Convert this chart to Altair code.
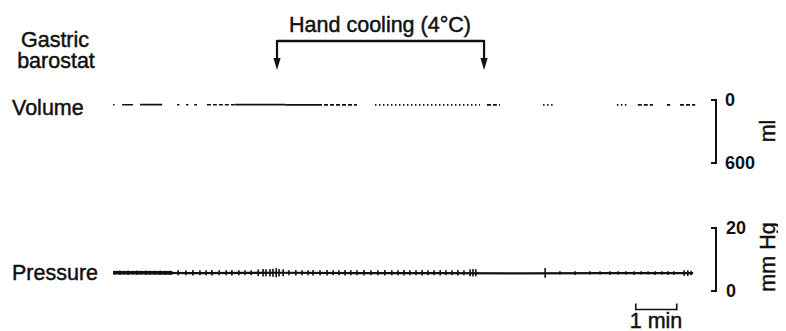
import altair as alt
import pandas as pd

FONT = "Liberation Sans"
INK = "#111111"

# ---------------- data ----------------
# Volume trace (ml) - the recorded trace is fragmented; visible pieces (min)
vol_start = [0.00, 0.22, 0.66, 1.56, 1.78, 1.98, 2.29, 2.98, 4.20, 5.00, 6.39, 9.12, 10.49, 12.29, 12.80, 13.51, 13.83]
vol_end   = [0.10, 0.49, 1.20, 1.62, 1.84, 2.05, 2.98, 4.20, 5.00, 5.95, 8.95, 9.44, 10.73, 12.54, 13.17, 13.59, 14.20]
vol_value = [45, 45, 44, 45, 45, 45, 45, 44, 46, 47, 47, 46, 46, 47, 46, 47, 46]
vol_style = ["dot", "solid", "solid", "solid", "solid", "solid", "dash", "solid", "solid", "dash",
             "dot", "dash", "dot", "dot", "dash", "solid", "dash"]

# Pressure trace (mm Hg) - baseline
p_time  = [0.0, 2.0, 4.0, 6.0, 8.0, 10.0, 12.0, 14.15]
p_value = [5.8, 5.7, 5.8, 5.7, 5.7, 5.6, 5.7, 5.7]
# thicker noisy start of the pressure trace
p_thick_time  = [0.0, 0.7, 1.45]
p_thick_value = [5.8, 5.8, 5.75]

# Pressure spikes (min, low, high in mm Hg)
spike_time = [0.05, 0.17, 0.27, 0.37, 0.49, 0.59, 0.68, 0.80, 0.90, 1.02, 1.15, 1.27, 1.39,
              1.59, 1.78, 1.95, 2.12, 2.27, 2.41, 2.59, 2.76, 2.90, 3.07, 3.22, 3.37, 3.54,
              3.66, 3.73, 3.83, 3.90, 3.98, 4.05, 4.15, 4.29, 4.46, 4.61, 4.76, 4.88, 5.05,
              5.22, 5.37, 5.51, 5.66, 5.80, 5.95, 6.12, 6.29, 6.46, 6.63, 6.80, 6.95, 7.10,
              7.24, 7.39, 7.54, 7.68, 7.83, 7.98, 8.12, 8.27, 8.41, 8.56, 8.71, 8.78, 8.85,
              10.54, 10.90, 11.27, 11.63, 11.88, 12.12, 12.32, 12.51, 12.71, 12.88, 13.05,
              13.22, 13.39, 13.54, 13.68, 13.93, 14.02, 14.10]
spike_lo = [5.2, 5.1, 5.2, 5.1, 5.2, 5.1, 5.2, 5.1, 5.2, 5.2, 5.1, 5.2, 5.2,
            5.0, 5.0, 4.9, 5.0, 5.0, 4.9, 5.0, 5.0, 4.9, 5.0, 5.0, 5.0, 4.8,
            4.6, 4.7, 4.6, 4.5, 4.4, 4.6, 4.7, 5.0, 4.9, 5.0, 5.0, 4.9, 5.0,
            4.9, 5.0, 5.0, 4.9, 5.0, 5.0, 4.9, 5.0, 5.0, 4.9, 5.0, 5.0, 4.9,
            5.0, 5.0, 4.9, 5.0, 5.0, 4.9, 5.0, 5.0, 4.9, 5.0, 4.7, 4.6, 4.7,
            4.2, 5.2, 5.1, 5.2, 5.2, 5.1, 5.2, 5.2, 5.1, 5.2, 5.2,
            5.1, 5.2, 5.1, 5.1, 4.8, 4.8, 5.0]
spike_hi = [6.4, 6.5, 6.4, 6.5, 6.4, 6.5, 6.4, 6.5, 6.4, 6.4, 6.5, 6.4, 6.4,
            6.6, 6.6, 6.7, 6.6, 6.6, 6.7, 6.6, 6.6, 6.7, 6.6, 6.6, 6.6, 6.8,
            7.0, 6.9, 7.0, 7.1, 7.2, 7.0, 6.9, 6.6, 6.7, 6.6, 6.6, 6.7, 6.6,
            6.7, 6.6, 6.6, 6.7, 6.6, 6.6, 6.7, 6.6, 6.6, 6.7, 6.6, 6.6, 6.7,
            6.6, 6.6, 6.7, 6.6, 6.6, 6.7, 6.6, 6.6, 6.7, 6.6, 6.9, 7.0, 6.9,
            7.3, 6.3, 6.3, 6.3, 6.3, 6.3, 6.3, 6.3, 6.3, 6.3, 6.3,
            6.3, 6.3, 6.3, 6.3, 6.6, 6.6, 6.4]

# Hand cooling period (min)
cool_times = [4.0, 9.05]
# Time calibration bar (min)
bar_start, bar_end = [12.75], [13.75]
# Calibration scales
vol_ticks = [0, 600]
p_ticks = [20, 0]

# Text
title_text = ["Hand cooling (4°C)"]
left_labels = ["Gastric", "barostat", "Volume", "Pressure"]
unit_labels = ["ml", "mm Hg"]
time_label = ["1 min"]

# ---------------- scales ----------------
x_scale = alt.Scale(domain=[0, 14], range=[105, 679], nice=False, zero=False)
vol_scale = alt.Scale(domain=[0, 600], range=[92, 155], nice=False, zero=False)
p_scale = alt.Scale(domain=[0, 20], range=[283, 220], nice=False, zero=False)

X = lambda f: alt.X(f, scale=x_scale, axis=None)
YV = lambda f: alt.Y(f, scale=vol_scale, axis=None)
YP = lambda f: alt.Y(f, scale=p_scale, axis=None)

vol_df = pd.DataFrame({"t0": vol_start, "t1": vol_end, "v": vol_value, "style": vol_style})
p_df = pd.DataFrame({"t": p_time, "p": p_value})
p_thick_df = pd.DataFrame({"t": p_thick_time, "p": p_thick_value})
spike_df = pd.DataFrame({"t": spike_time, "lo": spike_lo, "hi": spike_hi})
cool_df = pd.DataFrame({"t": cool_times})
cool_span = pd.DataFrame({"t0": [cool_times[0]], "t1": [cool_times[1]]})
bar_df = pd.DataFrame({"t0": bar_start, "t1": bar_end})
bar_ends = pd.DataFrame({"t": bar_start + bar_end})
vt_df = pd.DataFrame({"v": vol_ticks, "label": [str(v) for v in vol_ticks]})
pt_df = pd.DataFrame({"p": p_ticks, "label": [str(v) for v in p_ticks]})

layers = []

# Volume trace
dashes = {"solid": [1, 0], "dash": [4, 2], "dot": [1.5, 2.5]}
for style, dash in dashes.items():
    layers.append(
        alt.Chart(vol_df).transform_filter(alt.datum.style == style)
        .mark_rule(color=INK, strokeWidth=1.7, strokeDash=dash)
        .encode(x=X("t0:Q"), x2="t1:Q", y=YV("v:Q"))
    )

# Pressure trace
layers.append(alt.Chart(p_df).mark_line(color=INK, strokeWidth=2.2).encode(x=X("t:Q"), y=YP("p:Q")))
layers.append(alt.Chart(p_thick_df).mark_line(color=INK, strokeWidth=3.6).encode(x=X("t:Q"), y=YP("p:Q")))
layers.append(alt.Chart(spike_df).mark_rule(color=INK, strokeWidth=1.6).encode(x=X("t:Q"), y=YP("lo:Q"), y2="hi:Q"))

# Volume calibration bracket
layers.append(alt.Chart(pd.DataFrame({"a": [0], "b": [600]})).mark_rule(color=INK, strokeWidth=2)
              .encode(x=alt.value(708), y=YV("a:Q"), y2="b:Q"))
layers.append(alt.Chart(vt_df).mark_rule(color=INK, strokeWidth=2)
              .encode(x=alt.value(703), x2=alt.value(709), y=YV("v:Q")))
layers.append(alt.Chart(vt_df).mark_text(font=FONT, fontSize=18, fontWeight="bold", align="left",
                                         baseline="middle", color=INK, dy=1)
              .encode(x=alt.value(717), y=YV("v:Q"), text="label:N"))

# Pressure calibration bracket
layers.append(alt.Chart(pd.DataFrame({"a": [0], "b": [20]})).mark_rule(color=INK, strokeWidth=2)
              .encode(x=alt.value(708), y=YP("a:Q"), y2="b:Q"))
layers.append(alt.Chart(pt_df).mark_rule(color=INK, strokeWidth=2)
              .encode(x=alt.value(703), x2=alt.value(709), y=YP("p:Q")))
layers.append(alt.Chart(pt_df).mark_text(font=FONT, fontSize=18, fontWeight="bold", align="left",
                                         baseline="middle", color=INK, dy=1)
              .encode(x=alt.value(718), y=YP("p:Q"), text="label:N"))

# Hand cooling bracket with arrows
layers.append(alt.Chart(cool_span).mark_rule(color=INK, strokeWidth=2.3)
              .encode(x=X("t0:Q"), x2="t1:Q", y=alt.value(33)))
layers.append(alt.Chart(cool_df).mark_rule(color=INK, strokeWidth=2.2)
              .encode(x=X("t:Q"), y=alt.value(32), y2=alt.value(53)))
layers.append(alt.Chart(cool_df).mark_point(shape="M-0.6,-1L0.6,-1L0,1Z", size=144, filled=True,
                                            color=INK, opacity=1, strokeWidth=0)
              .encode(x=X("t:Q"), y=alt.value(56)))

# Time calibration bar
layers.append(alt.Chart(bar_df).mark_rule(color=INK, strokeWidth=1.6)
              .encode(x=X("t0:Q"), x2="t1:Q", y=alt.value(301.5)))
layers.append(alt.Chart(bar_ends).mark_rule(color=INK, strokeWidth=1.6)
              .encode(x=X("t:Q"), y=alt.value(295.5), y2=alt.value(302.3)))


def label(text, x, y, size=21.5, weight="normal", align="left", angle=0):
    return (alt.Chart(pd.DataFrame({"text": [text]}))
            .mark_text(font=FONT, fontSize=size, fontWeight=weight, align=align,
                       baseline="alphabetic", angle=angle, color=INK,
                       stroke=INK, strokeWidth=0.45)
            .encode(x=alt.value(x), y=alt.value(y), text="text:N"))


layers.append(label(title_text[0], 372, 24, align="center"))
layers.append(label(left_labels[0], 47, 39, align="center"))
layers.append(label(left_labels[1], 48, 60, align="center"))
layers.append(label(left_labels[2], 4, 107))
layers.append(label(left_labels[3], 4, 272))
layers.append(label(unit_labels[0], 767, 123, align="center", angle=270))
layers.append(label(unit_labels[1], 767, 249, align="center", angle=270))
layers.append(label(time_label[0], 648, 320, align="center"))

chart = (
    alt.layer(*layers)
    .resolve_scale(y="independent")
    .properties(width=770, height=323, padding=0, background="white",
                autosize=alt.AutoSizeParams(type="none"))
    .configure_view(stroke=None, strokeWidth=0)
)

chart.save("out.html", embed_options={"renderer": "svg", "actions": False})
